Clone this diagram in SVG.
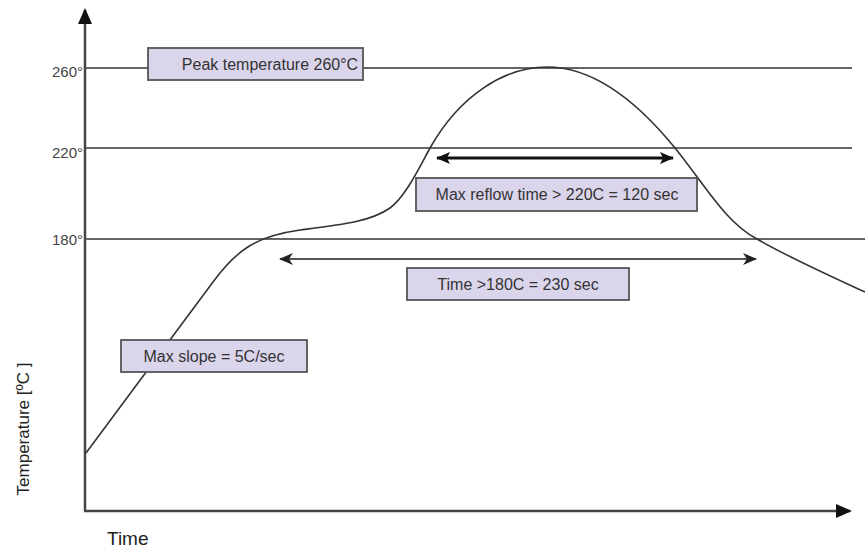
<svg xmlns="http://www.w3.org/2000/svg" width="865" height="550" viewBox="0 0 865 550">
  <defs>
    <style>
      .axis { stroke: #444; stroke-width: 2.5; fill: none; }
      .grid { stroke: #666; stroke-width: 2; fill: none; }
      .curve { stroke: #333; stroke-width: 1.6; fill: none; }
      .box { fill: #dbd5ec; stroke: #555; stroke-width: 1.8; }
      .lbl { font-family: "Liberation Sans", Arial, sans-serif; font-size: 16px; fill: #333; text-anchor: middle; }
      .tick { font-family: "Liberation Sans", Arial, sans-serif; font-size: 15px; fill: #444; text-anchor: end; }
      .ax { font-family: "Liberation Sans", Arial, sans-serif; fill: #222; }
    </style>
    <marker id="axh" markerUnits="userSpaceOnUse" viewBox="0 0 16 14" markerWidth="16" markerHeight="14" refX="14" refY="7" orient="auto">
      <path d="M0,0 L16,7 L0,14 Z" fill="#111"/>
    </marker>
    <marker id="bh" markerUnits="userSpaceOnUse" viewBox="0 0 14 12" markerWidth="14" markerHeight="12" refX="13" refY="6" orient="auto-start-reverse">
      <path d="M0,0 L14,6 L0,12 L3,6 Z" fill="#111"/>
    </marker>
    <marker id="gh" markerUnits="userSpaceOnUse" viewBox="0 0 14 12" markerWidth="14" markerHeight="12" refX="13" refY="6" orient="auto-start-reverse">
      <path d="M0,0 L14,6 L0,12 L4,6 Z" fill="#222"/>
    </marker>
  </defs>
  <rect width="865" height="550" fill="#ffffff"/>

  <g id="axes">
    <line class="axis" x1="85" y1="511" x2="85" y2="10" marker-end="url(#axh)"/>
    <line class="axis" x1="84" y1="511" x2="850" y2="511" marker-end="url(#axh)"/>
  </g>

  <g id="gridlines">
    <line class="grid" x1="86" y1="68" x2="852" y2="68"/>
    <line class="grid" x1="86" y1="148" x2="852" y2="148"/>
    <line class="grid" x1="86" y1="239" x2="865" y2="239"/>
  </g>

  <g id="ticks">
    <text class="tick" x="83" y="77">260°</text>
    <text class="tick" x="83" y="158">220°</text>
    <text class="tick" x="83" y="245">180°</text>
  </g>

  <g id="profile">
    <path class="curve" d="M86,453 L213,282 C238,248 258,236 300,230 C340,225 370,222 390,208 C405,197 418,170 430,148 C460,95 505,67 547,67 C595,67 640,105 675,148 C705,185 725,222 757,239 C790,258 830,276 865,292"/>
  </g>

  <g id="connectors">
    <line x1="437" y1="158" x2="673" y2="158" stroke="#111" stroke-width="3" marker-start="url(#bh)" marker-end="url(#bh)"/>
    <line x1="280" y1="259" x2="756" y2="259" stroke="#555" stroke-width="2" marker-start="url(#gh)" marker-end="url(#gh)"/>
  </g>

  <g id="peak-box">
    <rect class="box" x="148" y="48" width="215" height="32"/>
    <text class="lbl" x="270" y="70">Peak temperature 260°C</text>
  </g>

  <g id="reflow-box">
    <rect class="box" x="416" y="178" width="281" height="33"/>
    <text class="lbl" x="557" y="200">Max reflow time &gt; 220C = 120 sec</text>
  </g>

  <g id="time180-box">
    <rect class="box" x="407" y="268" width="222" height="32"/>
    <text class="lbl" x="518" y="290">Time &gt;180C = 230 sec</text>
  </g>

  <g id="slope-box">
    <rect class="box" x="121" y="340" width="186" height="32"/>
    <text class="lbl" x="214" y="362">Max slope = 5C/sec</text>
  </g>

  <g id="axis-labels">
    <text class="ax" x="107" y="545" font-size="19">Time</text>
    <text class="ax" transform="translate(29,429) rotate(-90)" font-size="17" text-anchor="middle">Temperature [ºC ]</text>
  </g>
</svg>
